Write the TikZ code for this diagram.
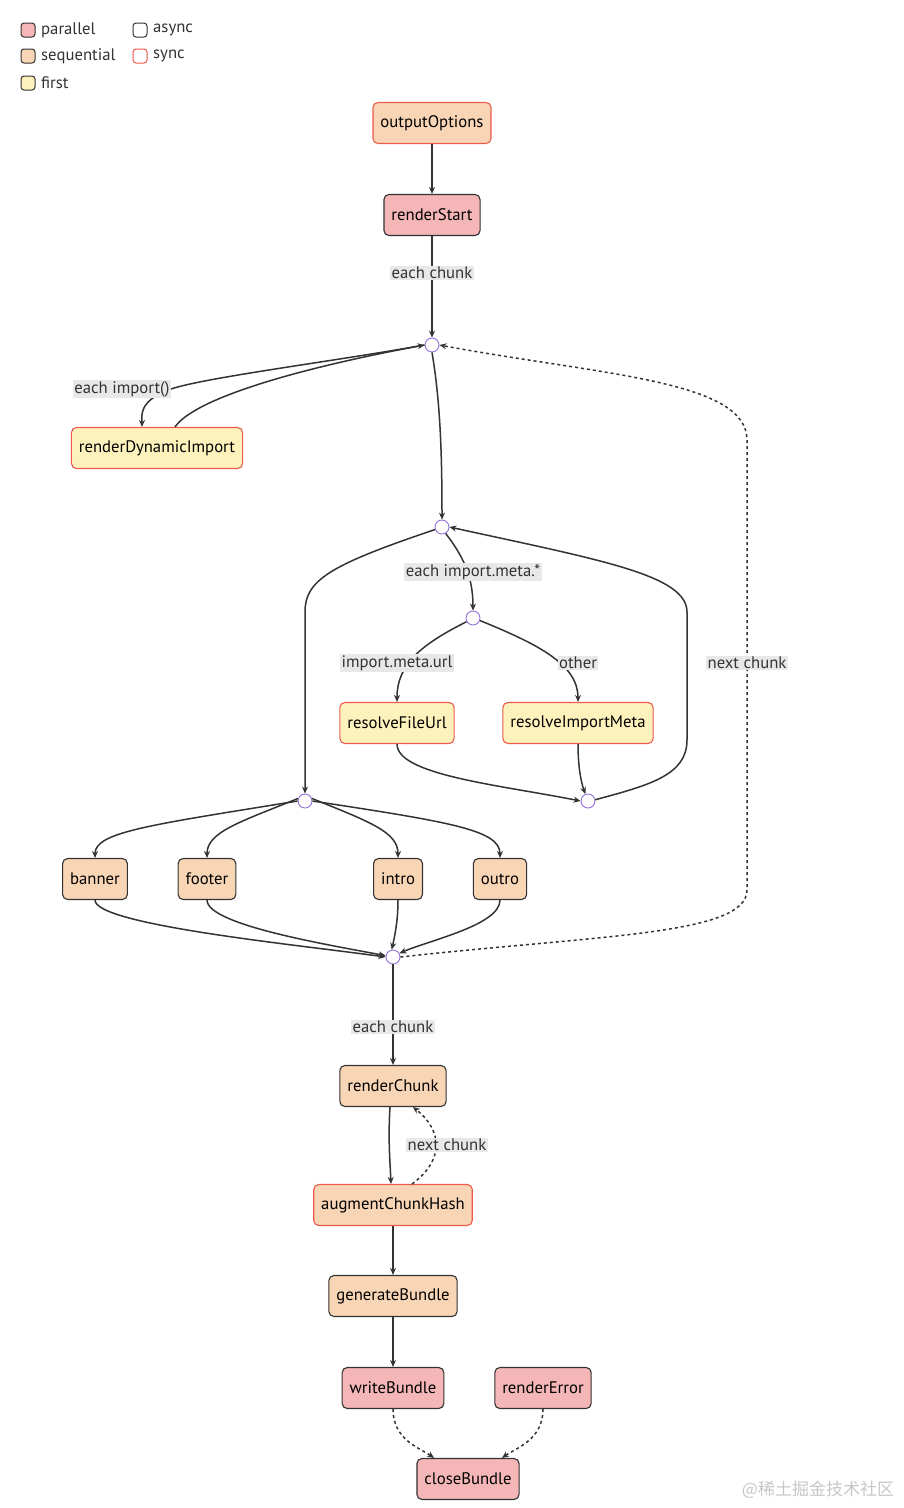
\documentclass[tikz,border=0pt]{standalone}
\usepackage{fontspec}
\setmainfont{PT Sans}
\newfontfamily\cjkfont{Noto Sans CJK SC}
\usetikzlibrary{arrows.meta,calc}
\definecolor{pfill}{HTML}{F4B6B6}
\definecolor{sfill}{HTML}{F8D5B5}
\definecolor{ffill}{HTML}{FEF2BC}
\definecolor{redline}{HTML}{EE5A4C}
\definecolor{darkline}{HTML}{333333}
\definecolor{junc}{HTML}{9370DB}
\definecolor{lblbg}{HTML}{E8E8E8}
\tikzset{
  box/.style={rectangle, rounded corners=5pt, line width=1.1pt, minimum height=41pt, inner xsep=7.5pt, font=\fontsize{16.7}{19}\selectfont, text=black},
  par/.style={box, fill=pfill, draw=darkline},
  seq/.style={box, fill=sfill, draw=darkline},
  seqsync/.style={box, fill=sfill, draw=redline},
  firstsync/.style={box, fill=ffill, draw=redline},
  junction/.style={circle, draw=junc, fill=white, line width=0.9pt, minimum size=14pt, inner sep=0pt},
  edge/.style={draw=darkline, line width=1.5pt, -{Stealth[length=7pt,width=6pt]}},
  dotedge/.style={edge, dash pattern=on 3pt off 3pt},
  lbl/.style={fill=lblbg, inner sep=1.5pt, font=\fontsize{16.7}{19}\selectfont, text=darkline},
  legbox/.style={rectangle, rounded corners=3pt, line width=1pt, minimum size=14pt, inner sep=0pt},
  legtext/.style={anchor=west, font=\fontsize{16.7}{19}\selectfont, text=darkline, inner sep=0pt},
}
\begin{document}
\begin{tikzpicture}[x=1pt,y=-1pt]
\useasboundingbox (0,0) rectangle (904,1508);
\fill[white] (0,0) rectangle (904,1508);
% legend
\node[legbox, fill=pfill, draw=darkline] (lp) at (28,30) {};
\node[legtext] (lpt) at (41,30) {parallel};
\node[legbox, fill=sfill, draw=darkline] (ls) at (28,56) {};
\node[legtext] (lst) at (41,56) {sequential};
\node[legbox, fill=ffill, draw=darkline] (lf) at (28,83) {};
\node[legtext] (lft) at (41,83) {first};
\node[legbox, fill=white, draw=darkline] (la) at (140,30) {};
\node[legtext] (lat) at (153,30) {async};
\node[legbox, fill=white, draw=redline] (lsy) at (140,56) {};
\node[legtext] (lsyt) at (153,56) {sync};
% nodes
\node[seqsync] (oO) at (432,123) {outputOptions};
\node[par] (rS) at (432,215) {renderStart};
\node[junction] (J1) at (432,345) {};
\node[firstsync] (rDI) at (157,448) {renderDynamicImport};
\node[junction] (J2) at (442,527) {};
\node[junction] (J3) at (473,618) {};
\node[firstsync] (rFU) at (397,723) {resolveFileUrl};
\node[firstsync] (rIM) at (578,723) {resolveImportMeta};
\node[junction] (J5) at (588,801) {};
\node[junction] (J4) at (305,801) {};
\node[seq] (ban) at (95,879) {banner};
\node[seq] (foo) at (207,879) {footer};
\node[seq] (intr) at (398,879) {intro};
\node[seq] (outr) at (500,879) {outro};
\node[junction] (J6) at (393,957) {};
\node[seq] (rC) at (393,1086) {renderChunk};
\node[seqsync] (aCH) at (393,1205) {augmentChunkHash};
\node[seq] (gB) at (393,1296) {generateBundle};
\node[par] (wB) at (393,1388) {writeBundle};
\node[par] (rE) at (543,1388) {renderError};
\node[par] (cB) at (468,1479) {closeBundle};
% edges
\draw[edge] (oO) -- (rS);
\draw[edge] (rS) -- (J1);
\draw[edge] (J1.west) .. controls (330,362) and (200,378) .. (168,390) .. controls (138,402) and (142,416) .. ([xshift=-15pt]rDI.north);
\draw[edge] ([xshift=18pt]rDI.north) .. controls (195,398) and (300,368) .. (J1.west);
\draw[edge] (J1.south) .. controls (440,400) and (442,450) .. (J2.north);
\draw[edge] (J2.200) .. controls (330,565) and (305,580) .. (305,612) -- (J4.north);
\draw[edge] (J2.300) .. controls (462,555) and (473,575) .. (J3.north);
\draw[edge] (J3.210) .. controls (420,645) and (397,665) .. (rFU.north);
\draw[edge] (J3.-20) .. controls (540,645) and (578,665) .. (rIM.north);
\draw[edge] (rFU.south) .. controls (397,775) and (500,785) .. (J5.west);
\draw[edge] (rIM.south) .. controls (578,770) and (582,785) .. (J5.110);
\draw[edge] (J5.10) .. controls (650,785) and (687,775) .. (687,740) -- (687,612) .. controls (687,575) and (600,560) .. (J2.east);
\draw[edge] (J4.180) .. controls (150,825) and (95,832) .. (ban.north);
\draw[edge] (J4.160) .. controls (240,822) and (207,832) .. (foo.north);
\draw[edge] (J4.20) .. controls (370,822) and (398,832) .. (intr.north);
\draw[edge] (J4.0) .. controls (450,822) and (500,830) .. (outr.north);
\draw[edge] (ban.south) .. controls (95,925) and (300,945) .. (J6.180);
\draw[edge] (foo.south) .. controls (207,925) and (330,945) .. (J6.170);
\draw[edge] (intr.south) .. controls (398,920) and (395,935) .. (J6.100);
\draw[edge] (outr.south) .. controls (500,925) and (430,940) .. (J6.30);
\draw[dotedge] (J6.0) .. controls (600,935) and (747,935) .. (747,890) -- (747,440) .. controls (747,380) and (600,375) .. (J1.0);
\draw[edge] (J6.south) -- (rC.north);
\draw[edge] ([xshift=-3pt]rC.south) .. controls (388,1140) and (390,1160) .. ([xshift=-2pt]aCH.north);
\draw[dotedge] ([xshift=19pt]aCH.north) .. controls (445,1160) and (442,1130) .. ([xshift=20pt]rC.south);
\draw[edge] (aCH) -- (gB);
\draw[edge] (gB) -- (wB);
\draw[dotedge] (wB.south) .. controls (393,1440) and (420,1448) .. ([xshift=-34pt]cB.north);
\draw[dotedge] (rE.south) .. controls (543,1440) and (516,1448) .. ([xshift=34pt]cB.north);
% edge labels
\node[lbl] (l1) at (432,273) {each chunk};
\node[lbl] (l2) at (122,389) {each import()};
\node[lbl] (l3) at (473,572) {each import.meta.*};
\node[lbl] (l4) at (397,663) {import.meta.url};
\node[lbl] (l5) at (578,663) {other};
\node[lbl] (l6) at (747,663) {next chunk};
\node[lbl] (l7) at (393,1027) {each chunk};
\node[lbl] (l8) at (447,1145) {next chunk};
% watermark
\node[font=\cjkfont\fontsize{17}{20}\selectfont, text=black!22, inner sep=0pt] (wm) at (818,1490) {@稀土掘金技术社区};
\end{tikzpicture}
\end{document}
